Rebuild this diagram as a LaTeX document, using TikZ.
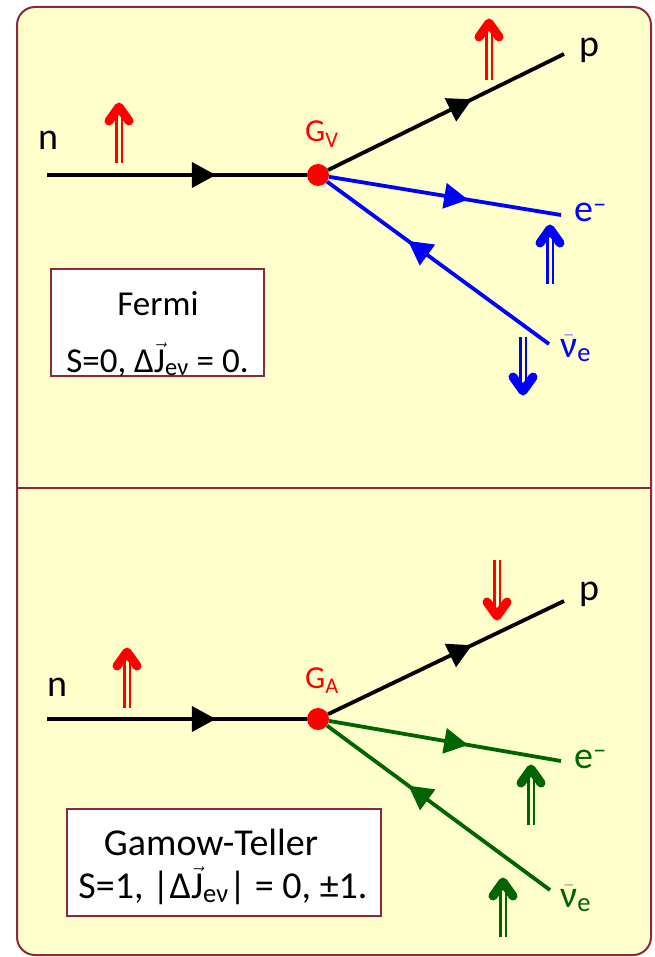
\documentclass[tikz,border=0pt]{standalone}
\usepackage{fontspec}
\setmainfont{Carlito}
\usetikzlibrary{arrows.meta,positioning,decorations.markings}
\definecolor{panel}{RGB}{255,255,204}
\definecolor{frame}{RGB}{140,40,60}
\definecolor{nugreen}{RGB}{0,100,0}

\begin{document}
\begin{tikzpicture}[x=1pt,y=-1pt,
  line/.style={line width=3.8pt},
  mid/.style={postaction=decorate,decoration={markings,mark=at position #1 with {\arrow{Triangle[length=24pt,width=25pt]}}}},
  vtx/.style={circle,fill=red,inner sep=0pt,minimum size=22pt},
  lbl/.style={font=\fontsize{38}{40}\selectfont,inner sep=0pt},
  coup/.style={font=\fontsize{32}{34}\selectfont,text=red,inner sep=0pt,anchor=base west},
  infobox/.style={draw=frame,line width=1.8pt,fill=white,inner sep=0pt,minimum height=107pt},
  boxtext/.style={inner sep=0pt,anchor=base},
  spin/.pic={\draw[line width=2.5pt,double=panel,double distance=3pt] (0,6)--(0,#1);
    \draw[line width=9pt,line cap=round,line join=round] (-10,14)--(0,0)--(10,14);}]
\useasboundingbox (0,0) rectangle (654,957);
\draw[frame,fill=panel,line width=2pt,rounded corners=18pt] (17,7) rectangle (651,955);
\draw[frame,line width=2pt] (17,488) -- (651,488);

% Fermi
\coordinate (nA) at (47,175);
\node[vtx] (vA) at (318,175) {};
\coordinate (pA) at (564,54);
\coordinate (eA) at (561,215);
\coordinate (nuA) at (549,344);
\draw[line,mid=0.65] (nA) -- (vA);
\draw[line,mid=0.61] (vA) -- (pA);
\draw[line,mid=0.6,blue] (vA) -- (eA);
\draw[line,mid=0.635,blue] (nuA) -- (vA);
\node[lbl,anchor=base west] (nlabA) at (38,150) {n};
\node[lbl] (plabA) at (589,50) {p};
\node[lbl,anchor=base west,text=blue] (elabA) at (574,222) {e\textsuperscript{–}};
\node[lbl,anchor=base west,text=blue] (nulabA) at (560,357) {$\bar{\mbox{ν}}$\textsubscript{e}};
\node[coup] (gA) at (305,142) {G\textsubscript{V}};
\pic[red] at (119,107) {spin=56};
\pic[red] at (489,23) {spin=57};
\pic[blue] at (550,229) {spin=55};
\pic[blue,rotate=180] at (523,391) {spin=54};
\node[infobox,minimum width=213pt] (fermi) at (157.5,322.5) {};
\node[boxtext,font=\fontsize{35}{40}\selectfont] (fermititle) at (158,315) {Fermi};
\node[boxtext,font=\fontsize{35}{40}\selectfont] (fermirule) at (157.5,372) {S=0, Δ$\vec{\mbox{J}}$\textsubscript{eν} = 0.};

% Gamow-Teller
\coordinate (nB) at (47,719);
\node[vtx] (vB) at (318,719) {};
\coordinate (pB) at (564,601);
\coordinate (eB) at (561,761);
\coordinate (nuB) at (550,890);
\draw[line,mid=0.65] (nB) -- (vB);
\draw[line,mid=0.61] (vB) -- (pB);
\draw[line,mid=0.6,nugreen] (vB) -- (eB);
\draw[line,mid=0.635,nugreen] (nuB) -- (vB);
\node[lbl,anchor=base west] (nlabB) at (47,696) {n};
\node[lbl] (plabB) at (589,594) {p};
\node[lbl,anchor=base west,text=nugreen] (elabB) at (574,768) {e\textsuperscript{–}};
\node[lbl,anchor=base west,text=nugreen] (nulabB) at (560,907) {$\bar{\mbox{ν}}$\textsubscript{e}};
\node[coup] (gB) at (305,688) {G\textsubscript{A}};
\pic[red] at (127,652) {spin=56};
\pic[red,rotate=180] at (497,616) {spin=56};
\pic[nugreen] at (531,769) {spin=56};
\pic[nugreen] at (503,882) {spin=55};
\node[infobox,minimum width=314pt] (gt) at (224,862.5) {};
\node[boxtext,font=\fontsize{38}{40}\selectfont] (gttitle) at (211,855) {Gamow-Teller};
\node[boxtext,font=\fontsize{38}{40}\selectfont] (gtrule) at (223,898) {S=1, |Δ$\vec{\mbox{J}}$\textsubscript{eν}| = 0, ±1.};
\end{tikzpicture}
\end{document}
